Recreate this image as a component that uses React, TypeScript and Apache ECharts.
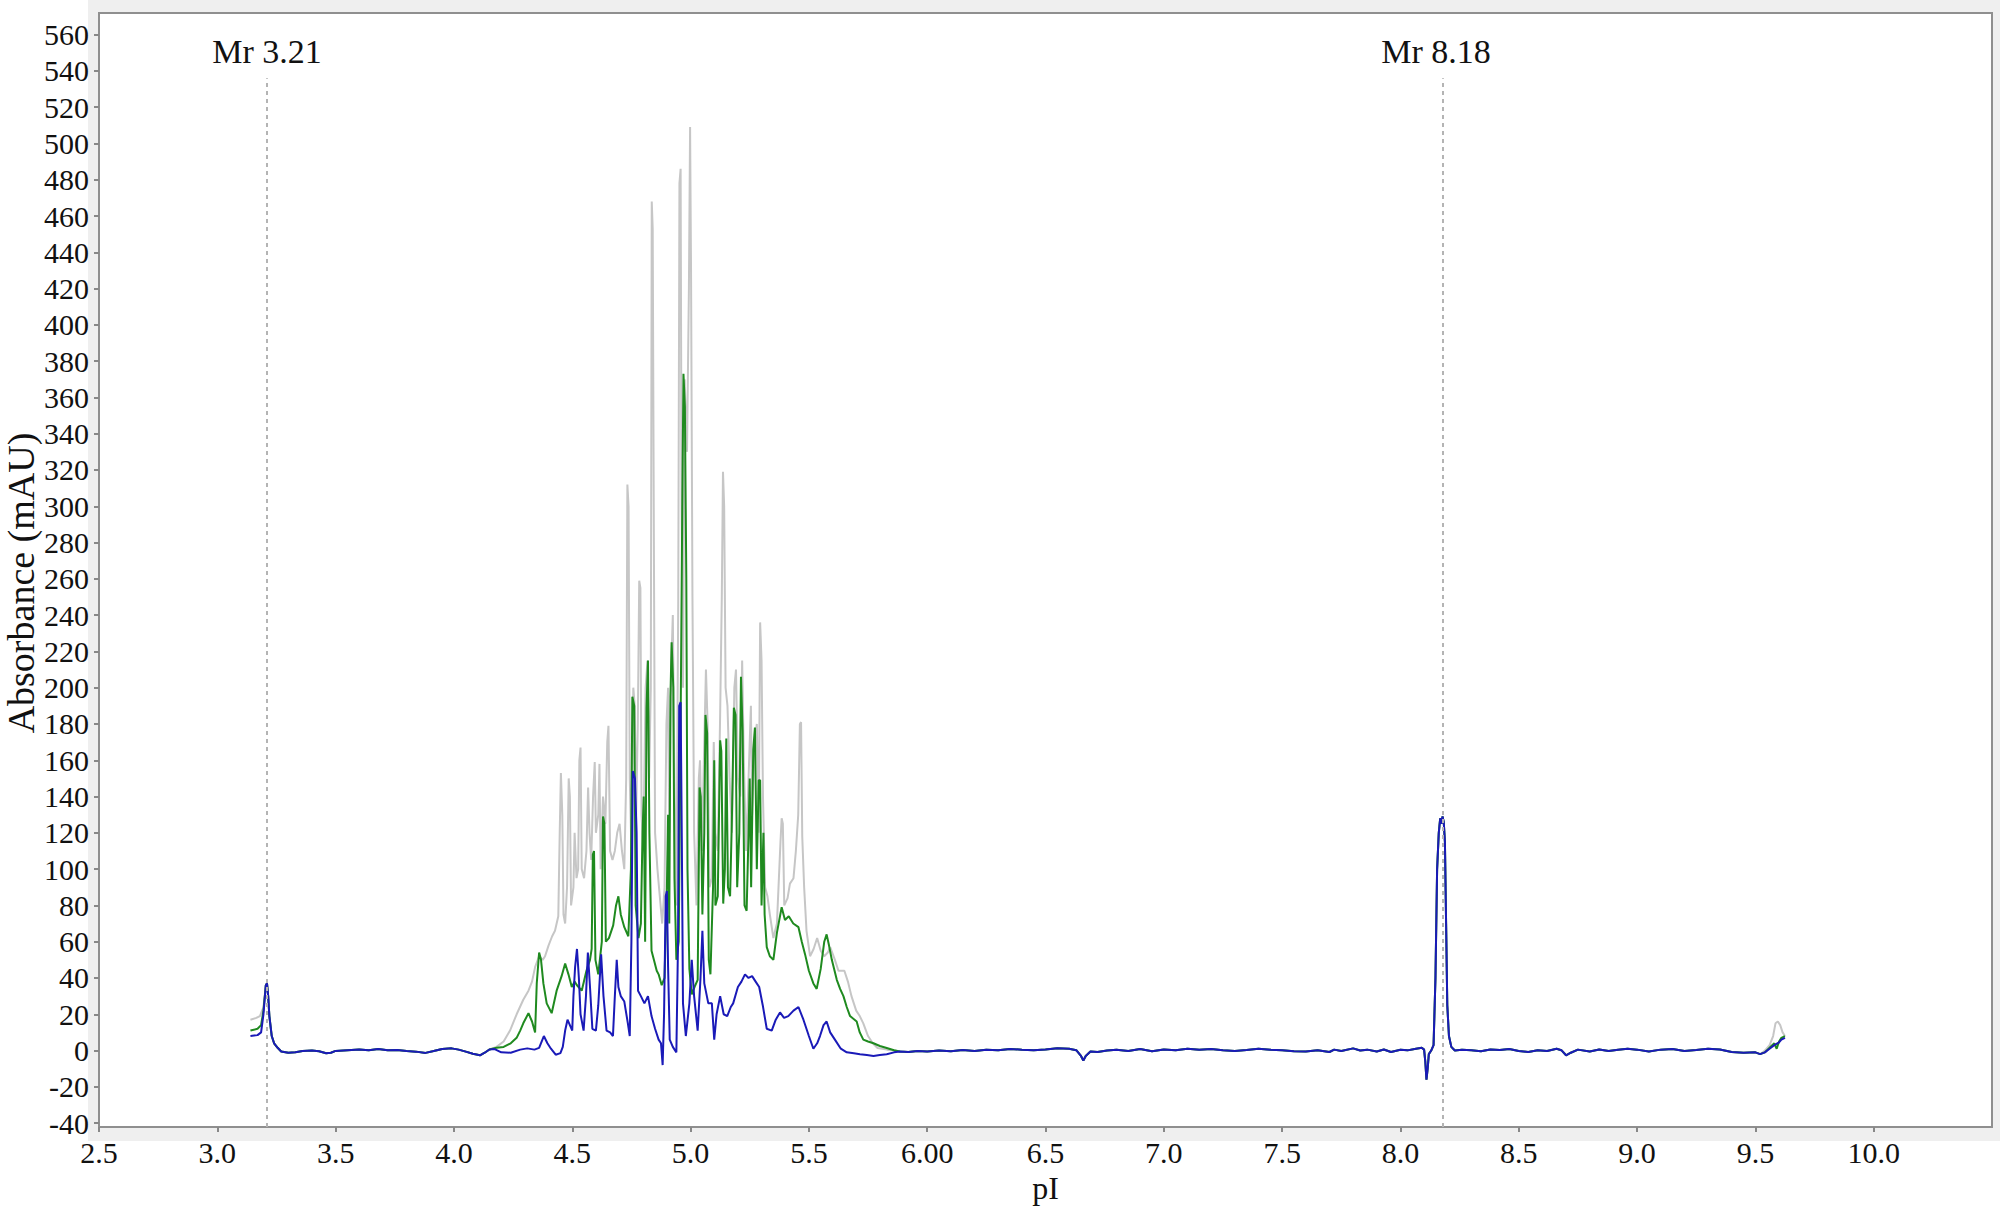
import React, { useEffect, useRef } from 'react';
import * as echarts from 'echarts';

// ---- axis ticks / labels ----
const xTickValues = [2.5, 3.0, 3.5, 4.0, 4.5, 5.0, 5.5, 6.0, 6.5, 7.0, 7.5, 8.0, 8.5, 9.0, 9.5, 10.0];
const xTickLabels = ['2.5', '3.0', '3.5', '4.0', '4.5', '5.0', '5.5', '6.00', '6.5', '7.0', '7.5', '8.0', '8.5', '9.0', '9.5', '10.0'];
const yTickValues = [-40, -20, 0, 20, 40, 60, 80, 100, 120, 140, 160, 180, 200, 220, 240, 260, 280, 300, 320, 340, 360, 380, 400, 420, 440, 460, 480, 500, 520, 540, 560];

// ---- Mr markers ----
const markerPI = [3.21, 8.18];
const markerLabels = ['Mr 3.21', 'Mr 8.18'];
const markerTop = 536;

// ---- trace segments [pI, mAU] ----
const blueStart = [[3.14, 8], [3.17, 8.5], [3.185, 10], [3.195, 20], [3.205, 36], [3.21, 37], [3.215, 30], [3.22, 19], [3.23, 8], [3.24, 4], [3.255, 1.5]];
const greenStart = [[3.14, 11], [3.17, 12], [3.185, 14], [3.195, 22], [3.205, 36], [3.21, 37], [3.215, 30], [3.22, 19], [3.23, 8], [3.24, 4], [3.255, 1.5]];
const greyStart = [[3.14, 17], [3.165, 18], [3.18, 19], [3.195, 24], [3.205, 36], [3.21, 37], [3.215, 30], [3.22, 19], [3.23, 8], [3.24, 4], [3.255, 1.5]];

const earlyBaseline = [[3.27, -0.5], [3.30, -1.2], [3.33, -1], [3.36, -0.3], [3.40, 0], [3.43, -0.4], [3.46, -1.5], [3.48, -1.2], [3.50, -0.2], [3.55, 0.2], [3.60, 0.6], [3.64, 0.2], [3.68, 0.8], [3.72, 0.1], [3.76, 0.3], [3.80, -0.3], [3.84, -0.6], [3.88, -1.3], [3.91, -0.4], [3.95, 0.9], [3.99, 1.2], [4.02, 0.5], [4.05, -0.6], [4.08, -1.8], [4.11, -2.6], [4.13, -1.2], [4.15, 0.6]];

const bluePeaks = [[4.17, 0.9], [4.2, -1], [4.24, -1.2], [4.28, 0.5], [4.31, 1.2], [4.34, 0.5], [4.36, 1.5], [4.38, 8], [4.395, 4], [4.41, 1], [4.43, -2.3], [4.45, -1.4], [4.46, 2], [4.47, 11], [4.48, 17], [4.49, 14], [4.5, 11], [4.505, 30], [4.512, 46], [4.52, 56], [4.528, 40], [4.535, 20], [4.548, 11], [4.558, 30], [4.566, 54], [4.575, 35], [4.585, 12], [4.6, 11], [4.61, 25], [4.622, 53], [4.632, 30], [4.645, 11], [4.66, 10], [4.672, 8], [4.68, 30], [4.688, 50], [4.695, 35], [4.705, 30], [4.72, 27], [4.735, 15], [4.743, 8], [4.75, 60], [4.756, 154], [4.765, 150], [4.772, 120], [4.778, 33], [4.79, 30], [4.805, 26], [4.82, 30], [4.835, 19], [4.85, 12], [4.865, 6], [4.875, 4], [4.882, -8], [4.888, 20], [4.895, 85], [4.9, 88], [4.905, 46], [4.912, 6], [4.925, 2], [4.94, -1], [4.947, 60], [4.952, 190], [4.958, 192], [4.963, 117], [4.968, 26], [4.98, 8], [4.995, 26], [5.005, 50], [5.015, 30], [5.03, 11], [5.042, 40], [5.05, 66], [5.058, 37], [5.075, 26], [5.09, 26], [5.1, 6], [5.11, 20], [5.125, 30], [5.14, 20], [5.155, 19], [5.17, 24], [5.18, 26], [5.2, 35], [5.215, 38], [5.23, 42], [5.245, 40], [5.26, 41], [5.275, 38], [5.29, 35], [5.305, 25], [5.322, 12], [5.343, 11], [5.36, 17], [5.378, 21], [5.395, 18], [5.413, 19], [5.435, 22], [5.456, 24], [5.477, 17], [5.5, 8], [5.519, 1], [5.535, 4], [5.547, 8], [5.562, 14], [5.575, 16], [5.59, 10], [5.61, 6], [5.635, 1], [5.66, -1], [5.69, -1.5], [5.716, -2], [5.745, -2.5], [5.773, -3], [5.8, -2.5], [5.829, -2], [5.86, -1], [5.885, -0.5], [5.92, -0.8]];

const greenPeaks = [[4.18, 1.5], [4.21, 2], [4.24, 4], [4.265, 7], [4.28, 11], [4.293, 15], [4.315, 20.6], [4.33, 16], [4.343, 10], [4.35, 37], [4.36, 54], [4.368, 50], [4.378, 37], [4.392, 26], [4.413, 20.6], [4.434, 33], [4.455, 41], [4.47, 48], [4.484, 42], [4.498, 35], [4.51, 38], [4.52, 36], [4.54, 33], [4.56, 44], [4.575, 50], [4.582, 56], [4.587, 108], [4.592, 110], [4.598, 50], [4.61, 42], [4.625, 60], [4.63, 129], [4.636, 125], [4.642, 60], [4.655, 62], [4.673, 69], [4.685, 80], [4.695, 85], [4.705, 75], [4.72, 68], [4.737, 63], [4.748, 100], [4.754, 195], [4.762, 190], [4.768, 80], [4.78, 62], [4.79, 70], [4.797, 120], [4.802, 140], [4.808, 60], [4.814, 189], [4.82, 215], [4.826, 120], [4.835, 55], [4.845, 50], [4.857, 44], [4.865, 42], [4.878, 36], [4.89, 40], [4.9, 90], [4.905, 130], [4.91, 70], [4.915, 195], [4.92, 225], [4.927, 200], [4.932, 95], [4.94, 50], [4.95, 60], [4.958, 180], [4.965, 300], [4.97, 373], [4.976, 355], [4.982, 260], [4.987, 100], [4.995, 45], [5.005, 31], [5.02, 36], [5.03, 39], [5.038, 145], [5.043, 140], [5.05, 75], [5.058, 120], [5.063, 185], [5.07, 175], [5.077, 50], [5.084, 42], [5.095, 90], [5.1, 160], [5.105, 80], [5.115, 85], [5.125, 171], [5.13, 165], [5.138, 81], [5.145, 100], [5.151, 172], [5.158, 90], [5.167, 85], [5.175, 130], [5.183, 189], [5.19, 185], [5.197, 90], [5.206, 120], [5.213, 206], [5.22, 176], [5.228, 80], [5.237, 77], [5.245, 120], [5.25, 150], [5.256, 90], [5.265, 166], [5.272, 178], [5.28, 100], [5.288, 149], [5.294, 149], [5.3, 80], [5.308, 120], [5.313, 75], [5.322, 57], [5.335, 52], [5.35, 50], [5.365, 65], [5.385, 79], [5.399, 72], [5.415, 74], [5.434, 70], [5.456, 68], [5.47, 60], [5.484, 53], [5.5, 44], [5.519, 37], [5.533, 34], [5.55, 45], [5.565, 60], [5.575, 64], [5.585, 58], [5.597, 50], [5.618, 39], [5.632, 34], [5.646, 30], [5.66, 24], [5.674, 19], [5.702, 16], [5.715, 10], [5.73, 6], [5.75, 5], [5.773, 4], [5.8, 2.5], [5.829, 1.4], [5.86, 0.2], [5.885, -0.5], [5.92, -0.8]];

const greyPeaks = [[4.18, 2], [4.21, 5], [4.237, 11], [4.265, 20], [4.293, 28], [4.315, 33], [4.33, 38], [4.343, 46], [4.36, 52], [4.375, 50], [4.385, 52], [4.4, 58], [4.415, 63], [4.427, 66], [4.441, 74], [4.447, 120], [4.452, 153], [4.458, 130], [4.463, 75], [4.47, 70], [4.478, 90], [4.485, 150], [4.49, 140], [4.495, 80], [4.505, 90], [4.51, 120], [4.518, 95], [4.525, 100], [4.53, 160], [4.535, 167], [4.54, 100], [4.55, 95], [4.56, 110], [4.567, 145], [4.573, 120], [4.58, 105], [4.588, 140], [4.595, 159], [4.6, 120], [4.61, 130], [4.615, 158], [4.62, 100], [4.63, 140], [4.64, 125], [4.648, 170], [4.653, 179], [4.66, 110], [4.67, 105], [4.68, 110], [4.69, 120], [4.7, 125], [4.71, 110], [4.72, 100], [4.728, 150], [4.733, 312], [4.738, 300], [4.743, 150], [4.75, 110], [4.758, 200], [4.764, 190], [4.77, 130], [4.777, 180], [4.783, 259], [4.788, 255], [4.793, 130], [4.8, 110], [4.81, 200], [4.818, 215], [4.825, 150], [4.832, 200], [4.836, 468], [4.84, 453], [4.845, 280], [4.85, 120], [4.86, 100], [4.87, 85], [4.88, 70], [4.89, 90], [4.898, 180], [4.905, 200], [4.91, 120], [4.918, 210], [4.925, 240], [4.932, 150], [4.94, 80], [4.948, 250], [4.953, 478], [4.958, 486], [4.962, 300], [4.968, 200], [4.975, 370], [4.985, 330], [4.993, 420], [4.998, 509], [5.002, 430], [5.008, 250], [5.015, 120], [5.025, 80], [5.035, 150], [5.04, 160], [5.048, 110], [5.058, 170], [5.065, 210], [5.072, 180], [5.08, 90], [5.09, 95], [5.098, 170], [5.105, 120], [5.115, 110], [5.125, 185], [5.132, 250], [5.137, 319], [5.142, 300], [5.148, 200], [5.156, 190], [5.165, 150], [5.175, 120], [5.185, 200], [5.192, 210], [5.2, 150], [5.21, 140], [5.218, 215], [5.225, 160], [5.235, 110], [5.245, 150], [5.255, 190], [5.26, 130], [5.27, 170], [5.28, 180], [5.288, 120], [5.294, 236], [5.3, 215], [5.306, 140], [5.315, 90], [5.325, 85], [5.335, 75], [5.35, 62], [5.365, 70], [5.38, 115], [5.385, 128], [5.39, 125], [5.396, 80], [5.41, 84], [5.42, 92], [5.435, 95], [5.445, 110], [5.455, 130], [5.462, 180], [5.467, 181], [5.472, 118], [5.48, 90], [5.49, 66], [5.505, 52], [5.52, 56], [5.535, 62], [5.55, 55], [5.565, 52], [5.58, 54], [5.59, 57], [5.61, 50], [5.625, 44], [5.65, 44], [5.665, 38], [5.68, 30], [5.7, 22], [5.715, 19], [5.73, 15], [5.75, 8], [5.77, 4], [5.79, 1.4], [5.83, 0.5], [5.86, 0], [5.885, -0.5], [5.92, -0.8]];

const tailBaseline = [[5.96, -0.3], [6.0, -0.5], [6.05, 0], [6.1, -0.4], [6.15, 0.3], [6.2, -0.2], [6.25, 0.5], [6.3, 0.2], [6.35, 0.9], [6.4, 0.4], [6.45, 0.2], [6.5, 0.6], [6.55, 1.2], [6.6, 1], [6.63, 0.2], [6.65, -3], [6.66, -5.5], [6.67, -3], [6.69, -0.5], [6.72, -0.8], [6.76, 0], [6.8, 0.4], [6.85, -0.2], [6.9, 0.8], [6.95, -0.4], [7.0, 0.6], [7.05, 0.2], [7.1, 1], [7.15, 0.4], [7.2, 0.8], [7.25, 0.2], [7.3, -0.2], [7.35, 0.3], [7.4, 1], [7.45, 0.5], [7.5, 0.2], [7.55, -0.4], [7.6, -0.5], [7.65, 0.2], [7.7, -0.8], [7.72, 0.5], [7.75, -0.3], [7.8, 1.2], [7.83, 0], [7.86, 0.5], [7.9, -0.5], [7.93, 0.6], [7.96, -0.8], [8.0, 0.4], [8.03, 0.1], [8.06, 0.8], [8.09, 1.5], [8.1, 0.5], [8.105, -6], [8.11, -16], [8.115, -10], [8.12, -2], [8.13, 0], [8.14, 3], [8.148, 40], [8.155, 100], [8.162, 120], [8.168, 128], [8.173, 125], [8.178, 129], [8.183, 126], [8.188, 115], [8.193, 70], [8.198, 25], [8.205, 8], [8.215, 2], [8.23, 0], [8.26, 0.4], [8.3, 0.2], [8.34, -0.4], [8.38, 0.6], [8.42, 0.3], [8.46, 0.8], [8.5, -0.2], [8.54, -0.8], [8.58, 0.2], [8.62, -0.3], [8.66, 1], [8.68, 0.2], [8.7, -2.6], [8.72, -1.2], [8.75, 0.5], [8.8, -0.5], [8.84, 0.6], [8.88, -0.3], [8.92, 0.4], [8.96, 1], [9.0, 0.5], [9.05, -0.5], [9.1, 0.5], [9.15, 0.8], [9.2, -0.3], [9.25, 0.3], [9.3, 1], [9.35, 0.6], [9.4, -0.8], [9.45, -1.2], [9.5, -1], [9.52, -2]];

const blueEnd = [[9.54, -1], [9.56, 1], [9.58, 3], [9.6, 4.5], [9.61, 6], [9.625, 7]];
const greenEnd = [[9.54, -1], [9.56, 1.5], [9.58, 4], [9.59, 1], [9.6, 5], [9.61, 7], [9.625, 8]];
const greyEnd = [[9.54, 0], [9.56, 3], [9.575, 8], [9.585, 15], [9.595, 16], [9.605, 14], [9.615, 10], [9.625, 8]];

const blueTrace = [...blueStart, ...earlyBaseline, ...bluePeaks, ...tailBaseline, ...blueEnd];
const greenTrace = [...greenStart, ...earlyBaseline, ...greenPeaks, ...tailBaseline, ...greenEnd];
const greyTrace = [...greyStart, ...earlyBaseline, ...greyPeaks, ...tailBaseline, ...greyEnd];

const FONT = '"Liberation Serif", "Times New Roman", serif';

export default function App() {
  const ref = useRef<HTMLDivElement>(null);
  useEffect(() => {
    if (!ref.current) return;
    const chart = echarts.init(ref.current, null, { renderer: 'svg' });
    const yMin = -42.2;
    const yMax = 571.9;
    const lineBase = { type: 'line', showSymbol: false, symbol: 'none', silent: true, smooth: false };
    chart.setOption({
      animation: false,
      backgroundColor: '#ffffff',
      grid: {
        left: 99, right: 8, top: 13, bottom: 78,
        show: true, backgroundColor: '#ffffff', borderColor: '#8f8f8f', borderWidth: 2,
      },
      graphic: [
        { type: 'rect', z: -10, shape: { x: 88, y: 0, width: 1912, height: 1141 }, style: { fill: '#efefef' } },
        {
          type: 'text', z: 10, x: 21, y: 583, rotation: Math.PI / 2,
          style: { text: 'Absorbance (mAU)', font: `38px ${FONT}`, fill: '#111', textAlign: 'center', textVerticalAlign: 'middle' },
        },
      ],
      xAxis: {
        type: 'value', min: 2.5, max: 10.5,
        name: 'pI', nameLocation: 'middle', nameGap: 44,
        nameTextStyle: { fontFamily: FONT, fontSize: 32, color: '#111' },
        axisLine: { show: false, onZero: false },
        splitLine: { show: false },
        axisTick: { show: true, length: 5, customValues: xTickValues, lineStyle: { color: '#888', width: 2 } },
        axisLabel: {
          customValues: xTickValues, margin: 10, fontFamily: FONT, fontSize: 30, color: '#111',
          formatter: (v: number) => {
            const i = xTickValues.findIndex((t) => Math.abs(t - v) < 1e-6);
            return i >= 0 ? xTickLabels[i] : '';
          },
        },
      },
      yAxis: {
        type: 'value', min: yMin, max: yMax,
        axisLine: { show: false, onZero: false },
        splitLine: { show: false },
        axisTick: { show: true, length: 5, customValues: yTickValues, lineStyle: { color: '#888', width: 2 } },
        axisLabel: {
          customValues: yTickValues, margin: 10, fontFamily: FONT, fontSize: 30, color: '#111',
          formatter: (v: number) => String(Math.round(v)),
        },
      },
      series: [
        {
          ...lineBase, name: 'grey', data: greyTrace, z: 2,
          lineStyle: { color: '#c6c6c6', width: 2 },
          markLine: {
            silent: true, symbol: 'none',
            lineStyle: { color: '#b4b4b4', width: 2, type: [4, 4] },
            label: { show: true, position: 'end', distance: 10, formatter: '{b}', fontFamily: FONT, fontSize: 34, color: '#111' },
            data: markerPI.map((p, i) => [
              { name: markerLabels[i], coord: [p, yMin], label: { offset: [i === 1 ? -7 : 0, 0] } },
              { coord: [p, markerTop] },
            ]),
          },
        },
        { ...lineBase, name: 'green', data: greenTrace, z: 3, lineStyle: { color: '#1f8a1f', width: 2 } },
        { ...lineBase, name: 'blue', data: blueTrace, z: 4, lineStyle: { color: '#1a1ab8', width: 2 } },
      ],
    });
    return () => chart.dispose();
  }, []);
  return <div ref={ref} style={{ position: 'fixed', left: 0, top: 0, width: 2000, height: 1209 }} />;
}
